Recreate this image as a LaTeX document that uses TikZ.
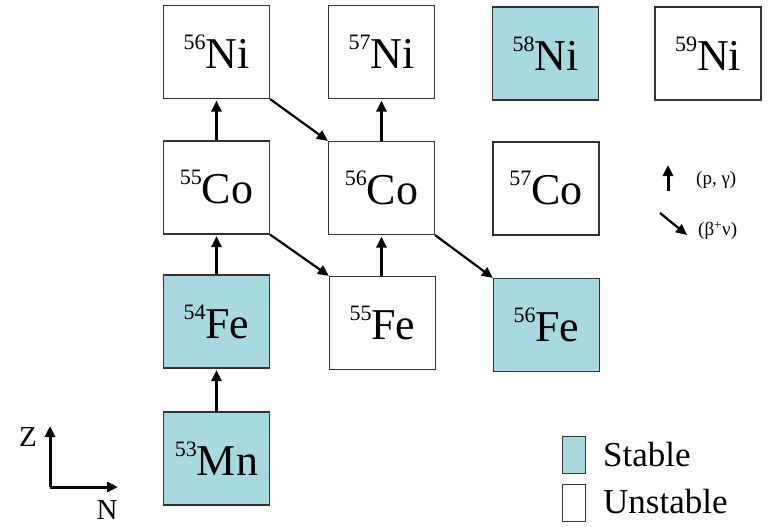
\documentclass[tikz,border=0pt]{standalone}
\usepackage{fontspec}
\setmainfont{Liberation Serif}
\usepackage{tikz}
\usetikzlibrary{
  arrows.meta,
  positioning
}
\definecolor{stablefill}{HTML}{A9D9E0}
\definecolor{boxline}{HTML}{333333}
\newcommand{\nuc}[2]{\raisebox{19pt}{\fontsize{22}{22}\selectfont #1}#2}
\tikzset{
  nucbox/.style={
    rectangle, draw=boxline, line width=1.2pt, fill=#1,
    minimum width=106pt, minimum height=93pt, inner sep=0pt,
    font=\fontsize{44}{46}\selectfont
  },
  nucbox/.default=white,
  keybox/.style={
    rectangle, draw=boxline, line width=1.2pt, fill=#1,
    minimum width=23pt, minimum height=37pt, inner sep=0pt
  },
  keybox/.default=white,
  keytext/.style={
    anchor=west, inner sep=0pt, font=\fontsize{35}{38}\selectfont
  },
  capture/.style={
    -{Triangle[length=11pt,width=10pt]}, line width=3pt
  },
  decay/.style={
    -{Triangle[length=11pt,width=10pt]}, line width=2.2pt
  },
  annot/.style={
    inner sep=0pt, font=\fontsize{19}{21}\selectfont
  },
  axislab/.style={
    inner sep=0pt, font=\fontsize{29}{31}\selectfont
  },
}
\begin{document}
\begin{tikzpicture}[x=1pt, y=-1pt]

  \useasboundingbox (0,0) rectangle (769,527);

  %% Nickel row
  \node[nucbox] (ni56) at (216.5, 52) {\nuc{56}{Ni}};
  \node[nucbox] (ni57) at (381.5, 52) {\nuc{57}{Ni}};
  \node[nucbox=stablefill] (ni58) at (545.5, 53.5) {\nuc{58}{Ni}};
  \node[nucbox] (ni59) at (708, 53.5) {\nuc{59}{Ni}};

  %% Cobalt row
  \node[nucbox] (co55) at (216.5, 187.5) {\nuc{55}{Co}};
  \node[nucbox] (co56) at (381.5, 188) {\nuc{56}{Co}};
  \node[nucbox] (co57) at (546, 188.5) {\nuc{57}{Co}};

  %% Iron row
  \node[nucbox=stablefill] (fe54) at (216.5, 321.5) {\nuc{54}{Fe}};
  \node[nucbox] (fe55) at (382.5, 323) {\nuc{55}{Fe}};
  \node[nucbox=stablefill] (fe56) at (546.5, 325) {\nuc{56}{Fe}};

  %% Manganese
  \node[nucbox=stablefill] (mn53) at (216.5, 458.5) {\nuc{53}{Mn}};

  %% (p, gamma) captures
  \draw[capture, shorten >=1.5pt] (mn53.north) -- (fe54.south);
  \draw[capture, shorten >=1.5pt] (fe54.north) -- (co55.south);
  \draw[capture, shorten >=1.5pt] (co55.north) -- (ni56.south);
  \draw[capture, shorten >=1.5pt] (fe55.north -| co56.south) -- (co56.south);
  \draw[capture, shorten >=1.5pt] (co56.north) -- (ni57.south);

  %% beta+ decays
  \draw[decay] (ni56.south east) -- (co56.north west);
  \draw[decay] (co55.south east) -- (fe55.north west);
  \draw[decay] (co56.south east) -- (fe56.north west);

  %% Reaction key
  \coordinate (pgtail) at (668, 191);
  \coordinate (pghead) at (668, 165);
  \draw[capture] (pgtail) -- (pghead);
  \node[annot, anchor=west] (pglab) at (696, 180) {(p, γ)};

  \coordinate (bntail) at (660, 213);
  \coordinate (bnhead) at (687, 235);
  \draw[decay] (bntail) -- (bnhead);
  \node[annot, anchor=west] (bnlab) at (698, 231) {(β\textsuperscript{+}ν)};

  %% Stability key
  \node[keybox=stablefill] (stkey) at (574, 455) {};
  \node[keytext] (sttext) at (603, 455) {Stable};
  \node[keybox] (unkey) at (574, 503) {};
  \node[keytext] (untext) at (603, 502) {Unstable};

  %% Axes
  \coordinate (origin) at (50, 487);
  \coordinate (zend) at (50, 426);
  \coordinate (nend) at (118, 487);
  \draw[capture] (origin) -- (zend);
  \draw[capture] (origin) -- (nend);
  \node[axislab] (zlab) at (28, 437) {Z};
  \node[axislab] (nlab) at (107, 510) {N};

\end{tikzpicture}
\end{document}
